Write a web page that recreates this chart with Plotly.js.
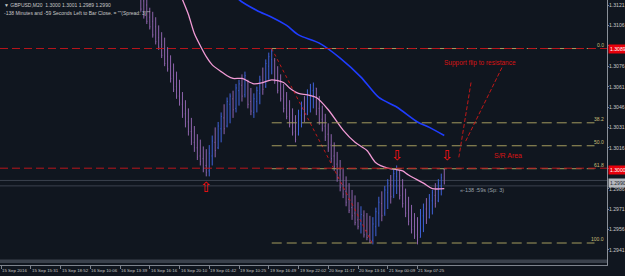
<!DOCTYPE html>
<html>
<head>
<meta charset="utf-8">
<script src="https://cdn.plot.ly/plotly-3.0.1.min.js"></script>
<style>html,body{margin:0;padding:0;background:#10161f;}#chart{width:625px;height:276px;}</style>
</head>
<body>
<div id="chart"></div>
<script>
// ---- data (GBPUSD M20) ----
const firstBar = 47;
const opens = [1.3129,1.3124,1.3121,1.3112,1.3109,1.3105,1.3097,1.3092,1.3088,1.3083,1.3076,1.3069,1.3061,1.3054,1.3048,1.3041,1.3035,1.3028,1.3020,1.3016,1.3010,1.3008,1.3003,
1.2999,1.3010,1.3020,1.3016,1.3030,1.3038,1.3032,1.3048,1.3052,1.3045,1.3058,1.3062,1.3055,
1.3065,1.3050,1.3042,1.3050,1.3056,1.3064,1.3061,1.3076,1.3081,
1.3080,1.3066,1.3060,1.3054,1.3047,1.3041,1.3035,1.3028,
1.3026,1.3040,1.3046,1.3041,1.3054,1.3058,
1.3060,1.3045,1.3037,1.3032,1.3026,1.3018,1.3010,1.3004,1.2996,1.2989,1.2984,1.2978,1.2972,1.2968,1.2963,1.2960,1.2966,1.2955,1.2952,1.2948,
1.2958,1.2968,1.2975,1.2968,1.2983,1.2989,1.2981,1.2995,
1.2999,1.2982,1.2976,1.2970,1.2963,1.2958,1.2952,
1.2950,1.2966,1.2971,1.2965,1.2977,1.2981,1.2977,1.2988,1.3000];
const highs = [1.3132,1.3128,1.3125,1.3119,1.3116,1.3112,1.3106,1.3101,1.3097,1.3090,1.3084,1.3078,1.3072,1.3066,1.3057,1.3051,1.3045,1.3038,1.3032,1.3026,1.3022,1.3017,1.3015,
1.3018,1.3025,1.3031,1.3035,1.3042,1.3048,1.3053,1.3056,1.3058,1.3063,1.3066,1.3070,1.3072,
1.3066,1.3060,1.3056,1.3061,1.3069,1.3075,1.3081,1.3086,1.3089,
1.3082,1.3076,1.3070,1.3063,1.3057,1.3051,1.3045,1.3040,
1.3044,1.3050,1.3054,1.3059,1.3063,1.3064,
1.3060,1.3054,1.3047,1.3041,1.3034,1.3026,1.3020,1.3013,1.3007,1.3001,1.2995,1.2990,1.2985,1.2981,1.2976,1.2973,1.2970,1.2968,1.2966,1.2965,
1.2972,1.2980,1.2984,1.2988,1.2993,1.2996,1.3000,1.3003,
1.2999,1.2993,1.2986,1.2980,1.2974,1.2968,1.2965,
1.2971,1.2975,1.2979,1.2982,1.2985,1.2990,1.2993,1.2997,1.3001];
const lows = [1.3116,1.3111,1.3107,1.3103,1.3097,1.3092,1.3088,1.3082,1.3076,1.3072,1.3064,1.3057,1.3052,1.3047,1.3038,1.3031,1.3025,1.3018,1.3013,1.3007,1.3003,1.2998,1.2995,
1.2995,1.3003,1.3009,1.3015,1.3020,1.3026,1.3031,1.3034,1.3038,1.3042,1.3047,1.3050,1.3053,
1.3045,1.3040,1.3038,1.3042,1.3048,1.3055,1.3060,1.3066,1.3070,
1.3063,1.3056,1.3050,1.3042,1.3037,1.3031,1.3025,1.3020,
1.3025,1.3031,1.3035,1.3040,1.3042,1.3045,
1.3040,1.3033,1.3028,1.3021,1.3013,1.3005,1.2999,1.2991,1.2984,1.2979,1.2973,1.2968,1.2963,1.2959,1.2956,1.2953,1.2950,1.2948,1.2946,1.2945,
1.2951,1.2958,1.2962,1.2966,1.2971,1.2975,1.2979,1.2982,
1.2978,1.2972,1.2965,1.2959,1.2953,1.2949,1.2945,
1.2950,1.2954,1.2960,1.2964,1.2967,1.2972,1.2976,1.2981,1.2989];
const closes = [1.3118,1.3113,1.3109,1.3105,1.3099,1.3094,1.3090,1.3084,1.3078,1.3074,1.3067,1.3059,1.3054,1.3049,1.3040,1.3034,1.3028,1.3021,1.3016,1.3009,1.3006,1.3001,1.2998,
1.3012,1.3021,1.3014,1.3032,1.3039,1.3030,1.3050,1.3054,1.3044,1.3060,1.3063,1.3054,1.3069,
1.3048,1.3043,1.3052,1.3058,1.3066,1.3059,1.3078,1.3083,1.3087,
1.3065,1.3058,1.3052,1.3045,1.3039,1.3033,1.3027,1.3022,
1.3041,1.3047,1.3038,1.3056,1.3060,1.3062,
1.3043,1.3035,1.3030,1.3024,1.3016,1.3008,1.3002,1.2994,1.2987,1.2982,1.2976,1.2970,1.2966,1.2961,1.2958,1.2967,1.2952,1.2950,1.2948,1.2960,
1.2969,1.2976,1.2966,1.2985,1.2990,1.2980,1.2997,1.3000,
1.2981,1.2975,1.2968,1.2962,1.2956,1.2951,1.2948,
1.2968,1.2972,1.2963,1.2979,1.2983,1.2975,1.2990,1.2994,1.2990];

// moving averages (bar index, value)
const pinkIdx = [60,61,63,65,67,69,71,74,76,78,81,85,88,91,95,97,100,103,106,110,115,119,123,126,130,133,135,137,142,145,149];
const pinkVal = [1.3131,1.3125,1.3114,1.3100,1.3091,1.3083,1.3077,1.3072,1.3069,1.3067,1.3067,1.3063,1.3064,1.3066,1.3064,1.3060,1.3056,1.3055,1.3053,1.3044,1.3029,1.3020,1.3014,1.3005,1.3001,1.3000,1.2999,1.2996,1.2990,1.2986,1.2986];
const blueIdx = [79,80,86,91,96,100,107,114,121,127,133,140,144,149];
const blueVal = [1.3128,1.3125,1.3117,1.3112,1.3106,1.3099,1.3093,1.3082,1.3068,1.3053,1.3046,1.3035,1.3031,1.3025];

// axis ticks
const timeIdx = [0,10,20,30,40,50,60,70,80,90,100,110,120,130,140];
const timeLabels = ["15 Sep 2016","15 Sep 15:31","15 Sep 18:52","16 Sep 10:06","16 Sep 13:39","16 Sep 16:16","16 Sep 20:10","19 Sep 01:42","19 Sep 10:25","19 Sep 16:49","19 Sep 22:02","20 Sep 11:17","20 Sep 13:16","21 Sep 00:09","21 Sep 07:25"];
const priceTicks = [1.3121,1.3106,1.3091,1.3076,1.3061,1.3046,1.3031,1.3016,1.3001,1.2986,1.2971,1.2956,1.2941];
const priceTickText = ["1.3121","1.3106","","1.3076","1.3061","1.3046","1.3031","1.3016","","1.2986","1.2971","1.2956","1.2941"];

// levels / drawn objects
const srLevels = [1.3089, 1.3001];
const fibStartIdx = 91;
const fibHigh = 1.3089, fibLow = 1.2946;
const fibRatios = [0.0, 38.2, 50.0, 61.8, 100.0];
const trendIdx = [91, 125];
const trendVal = [1.3089, 1.2945];
const bidAsk = [1.2992, 1.2988];
const arrowIdx = [69, 133, 150];
const arrowVal = [1.2987, 1.3011, 1.3011];
const arrowGlyph = ["⇧", "⇩", "⇩"];
const priceBoxes = [{v:1.3089, t:"1.3089", bg:"#e8000b", fc:"#ffffff"},{v:1.3000, t:"1.3000", bg:"#e8000b", fc:"#ffffff"},{v:1.2990, t:"1.2990", bg:"#b4b8be", fc:"#20242c"}];

// ---- chart ----
const BG = "#10161f";
const barIdx = opens.map((_, k) => firstBar + k);
const yRange = [1.292982, 1.312468];
const xRange = [-0.336, 203.7];

const traces = [
  {type:"ohlc", x:barIdx, open:opens, high:highs, low:lows, close:closes,
   increasing:{line:{color:"#4062d8", width:1}}, decreasing:{line:{color:"#8d63ab", width:1}},
   tickwidth:0.2, hoverinfo:"skip", showlegend:false},
  {type:"scatter", mode:"lines", x:pinkIdx, y:pinkVal, line:{color:"#f29bd6", width:1.3, shape:"spline", smoothing:0.8}, hoverinfo:"skip", showlegend:false},
  {type:"scatter", mode:"lines", x:blueIdx, y:blueVal, line:{color:"#1f3dff", width:1.6, shape:"spline", smoothing:0.8}, hoverinfo:"skip", showlegend:false},
  {type:"scatter", mode:"lines", x:trendIdx, y:trendVal, line:{color:"#c01818", width:1, dash:"dot"}, hoverinfo:"skip", showlegend:false}
];

const shapes = [];
bidAsk.forEach(v => shapes.push({type:"line", xref:"paper", x0:0, x1:1, yref:"y", y0:v, y1:v, line:{color:"#3a414e", width:1}, layer:"below"}));
const fibEndIdx = 199.5;
fibRatios.forEach(r => {
  const v = fibHigh - (fibHigh - fibLow) * r / 100;
  shapes.push({type:"line", xref:"x", x0:fibStartIdx, x1:fibEndIdx, yref:"y", y0:v, y1:v, line:{color:"#a39b5e", width:1, dash:"10px,5px"}});
});
srLevels.forEach(v => shapes.push({type:"line", xref:"paper", x0:0, x1:1, yref:"y", y0:v, y1:v, line:{color:"#b8161c", width:1, dash:"8px,4px"}}));
shapes.push({type:"line", xref:"x", yref:"y", x0:158.0, y0:1.3064, x1:153.9, y1:1.3009, line:{color:"#c01818", width:1, dash:"4px,2px"}});
shapes.push({type:"line", xref:"x", yref:"y", x0:168.4, y0:1.3075, x1:156.0, y1:1.3020, line:{color:"#c01818", width:1, dash:"4px,2px"}});
shapes.push({type:"rect", xref:"paper", yref:"paper", x0:0, x1:1, y0:0.0075, y1:0.0208, fillcolor:"#3a414c", line:{width:0}});

const F = "Liberation Sans, Arial, sans-serif";
const annotations = [];
timeIdx.forEach((ix, k) => annotations.push({xref:"x", yref:"paper", x:ix, y:-0.019, xanchor:"left", yanchor:"middle", showarrow:false, text:timeLabels[k], font:{family:F, size:4.4, color:"#c4c4c4"}, borderpad:0}));
priceTicks.forEach((v, k) => { if (priceTickText[k]) annotations.push({xref:"paper", yref:"y", x:1, xshift:1, y:v, xanchor:"left", yanchor:"middle", showarrow:false, text:priceTickText[k], font:{family:F, size:5.1, color:"#c8c8c8"}, borderpad:0}); });
fibRatios.forEach(r => {
  const v = fibHigh - (fibHigh - fibLow) * r / 100;
  annotations.push({xref:"paper", yref:"y", x:0.997, y:v, xanchor:"right", yanchor:"bottom", showarrow:false, text:r.toFixed(1), font:{family:F, size:5, color:"#c9bf78"}, borderpad:0});
});
priceBoxes.forEach(b => annotations.push({xref:"paper", yref:"y", x:1, xshift:1, y:b.v, xanchor:"left", yanchor:"middle", showarrow:false, text:b.t, bgcolor:b.bg, font:{family:F, size:5.1, color:b.fc}, borderpad:1}));
arrowIdx.forEach((ix, k) => annotations.push({xref:"x", yref:"y", x:ix, y:arrowVal[k], showarrow:false, text:arrowGlyph[k], font:{family:"DejaVu Sans", size:14, color:"#ff1010"}}));
annotations.push({xref:"x", yref:"y", x:161, y:1.3078, showarrow:false, text:"Support flip to resistance", font:{family:F, size:6.5, color:"#d81414"}});
annotations.push({xref:"x", yref:"y", x:170.4, y:1.3010, showarrow:false, text:"S/R Area", font:{family:F, size:7, color:"#d81414"}});
annotations.push({xref:"x", yref:"y", x:153.6, y:1.2985, xanchor:"left", showarrow:false, text:"«-138 :59s (Sp: 3)", font:{family:F, size:5.5, color:"#9aa0a8"}});
annotations.push({xref:"paper", yref:"paper", x:0.003, y:0.981, xanchor:"left", yanchor:"middle", showarrow:false, text:"▼ GBPUSD,M20  1.3000 1.3001 1.2989 1.2990", font:{family:F, size:5, color:"#c8c8c8"}});
annotations.push({xref:"paper", yref:"paper", x:0.003, y:0.951, xanchor:"left", yanchor:"middle", showarrow:false, text:"-138 Minutes and -59 Seconds Left to Bar Close. = \"\"(Spread: 3)\"\"", font:{family:F, size:5, color:"#c8c8c8"}});

const layout = {
  width:625, height:276,
  margin:{l:0, r:18, t:0, b:11, pad:0},
  paper_bgcolor:BG, plot_bgcolor:BG,
  showlegend:false,
  xaxis:{range:xRange, tickvals:timeIdx, showticklabels:false, ticks:"outside", ticklen:3, tickcolor:"#7d838d",
         showline:true, linecolor:"#7d838d", linewidth:1, showgrid:false, zeroline:false, rangeslider:{visible:false}, fixedrange:true},
  yaxis:{range:yRange, side:"right", tickvals:priceTicks, showticklabels:false, ticks:"outside", ticklen:1, tickcolor:"#7d838d",
         showline:true, linecolor:"#8a9099", linewidth:1, showgrid:false, zeroline:false, fixedrange:true},
  shapes:shapes, annotations:annotations
};

Plotly.newPlot("chart", traces, layout, {staticPlot:true, displayModeBar:false});
</script>
</body>
</html>
